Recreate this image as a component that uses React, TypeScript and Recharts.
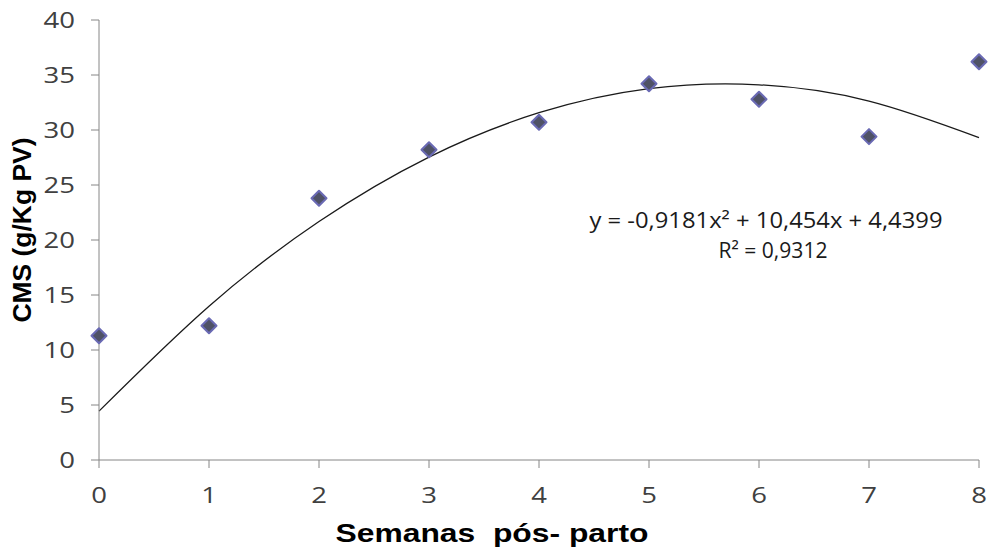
import { ComposedChart, Line, Scatter, XAxis, YAxis } from 'recharts';

// semanas pós-parto
const weeks = [0, 1, 2, 3, 4, 5, 6, 7, 8];
// CMS observado (g/Kg PV)
const observed = [11.3, 12.2, 23.8, 28.2, 30.7, 34.2, 32.8, 29.4, 36.2];
// curva ajustada
const fitted = [4.44, 13.98, 21.68, 27.54, 31.57, 33.76, 34.11, 32.63, 29.31];

const xTicks = [0, 1, 2, 3, 4, 5, 6, 7, 8];
const yTicks = [0, 5, 10, 15, 20, 25, 30, 35, 40];

const equation = 'y = -0,9181x² + 10,454x + 4,4399';
const rSquared = 'R² = 0,9312';

const data = weeks.map((x, i) => ({ x, obs: observed[i], fit: fitted[i] }));

const FONT = '"Open Sans", sans-serif';
const BOLD = '"Liberation Sans", Arial, sans-serif';

// the original image is stretched sideways, so the tick text is too
const YTick = (props: any) => {
  const { x, y, payload } = props;
  return (
    <text
      transform={`translate(${x},${y}) scale(1.25,1)`}
      textAnchor="end"
      dy="0.36em"
      fontSize={22}
      fill="#404040"
      fontFamily={FONT}
    >
      {payload.value}
    </text>
  );
};

const XTick = (props: any) => {
  const { x, y, payload } = props;
  return (
    <text
      transform={`translate(${x},${y}) scale(1.25,1)`}
      textAnchor="middle"
      dy="0.71em"
      fontSize={22}
      fill="#404040"
      fontFamily={FONT}
    >
      {payload.value}
    </text>
  );
};

// losango do Excel
const Diamond = (props: any) => {
  const { cx, cy } = props;
  const r = 7.5;
  return (
    <polygon
      points={`${cx},${cy - r} ${cx + r},${cy} ${cx},${cy + r} ${cx - r},${cy}`}
      fill="#4F5266"
      stroke="#6A6AB4"
      strokeWidth={2}
      strokeLinejoin="round"
    />
  );
};

export default function App() {
  return (
    <div style={{ position: 'absolute', left: 0, top: 0, background: '#fff' }}>
      <ComposedChart
        width={989}
        height={552}
        data={data}
        margin={{ top: 20, right: 10, left: 39, bottom: 42 }}
      >
        <XAxis
          dataKey="x"
          type="number"
          domain={[0, 8]}
          ticks={xTicks}
          stroke="#868686"
          tickSize={8}
          tickMargin={19}
          height={50}
          tick={<XTick />}
        />
        <YAxis
          type="number"
          domain={[0, 40]}
          ticks={yTicks}
          stroke="#868686"
          tickSize={8}
          tickMargin={16}
          width={60}
          tick={<YTick />}
        />
        <Line
          type="natural"
          dataKey="fit"
          stroke="#1a1a1a"
          strokeWidth={1.3}
          dot={false}
          activeDot={false}
          isAnimationActive={false}
        />
        <Scatter dataKey="obs" shape={<Diamond />} isAnimationActive={false} />
        <text
          x={766}
          y={228}
          textAnchor="middle"
          fontSize={22}
          fill="#1a1a1a"
          fontFamily={FONT}
          textLength={353}
          lengthAdjust="spacingAndGlyphs"
        >
          {equation}
        </text>
        <text
          x={773}
          y={258}
          textAnchor="middle"
          fontSize={22}
          fill="#1a1a1a"
          fontFamily={FONT}
          textLength={109}
          lengthAdjust="spacingAndGlyphs"
        >
          {rSquared}
        </text>
        <text
          x={492}
          y={542}
          textAnchor="middle"
          fontSize={25}
          fontWeight="bold"
          fill="#000"
          fontFamily={BOLD}
          textLength={313}
          lengthAdjust="spacingAndGlyphs"
          style={{ whiteSpace: 'pre' }}
        >
          {'Semanas  pós- parto'}
        </text>
        <text
          x={31}
          y={230}
          textAnchor="middle"
          fontSize={25}
          fontWeight="bold"
          fill="#000"
          fontFamily={BOLD}
          textLength={185}
          lengthAdjust="spacingAndGlyphs"
          transform="rotate(-90, 31, 230)"
        >
          CMS (g/Kg PV)
        </text>
      </ComposedChart>
    </div>
  );
}
